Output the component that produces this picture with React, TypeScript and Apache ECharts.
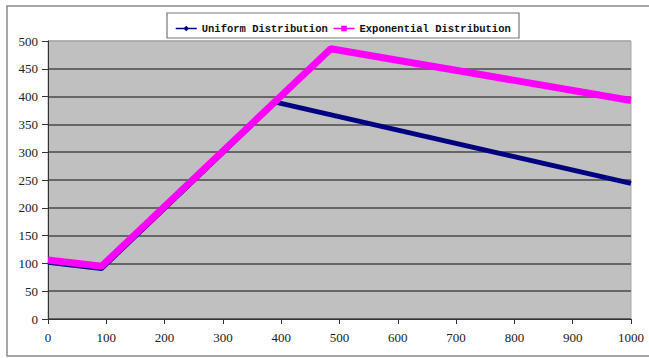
import React, { useEffect, useRef } from "react";
import * as echarts from "echarts";

// Sample positions and observed values for each distribution
const uniformX = [0, 92, 390, 1000];
const uniformY = [102, 91, 390, 244];
const exponentialX = [0, 92, 485, 1000];
const exponentialY = [106, 95, 486, 393];

const seriesNames = ["Uniform Distribution", "Exponential Distribution"];
const xTicks = [0, 100, 200, 300, 400, 500, 600, 700, 800, 900, 1000];
const yTicks = [0, 50, 100, 150, 200, 250, 300, 350, 400, 450, 500];

const pairs = (xs: number[], ys: number[]) => xs.map((x, i) => [x, ys[i]]);

export default function App() {
  const ref = useRef<HTMLDivElement>(null);

  useEffect(() => {
    if (!ref.current) return;
    const chart = echarts.init(ref.current, undefined, { renderer: "svg" });
    const gridLineColors = yTicks.map((_, i) => (i === yTicks.length - 1 ? "#a8a8a8" : "#4a4a4a"));

    chart.setOption({
      animation: false,
      backgroundColor: "#ffffff",
      textStyle: { fontFamily: "Liberation Serif" },
      graphic: [
        {
          type: "rect",
          shape: { x: 7, y: 6, width: 660, height: 350 },
          style: { fill: "none", stroke: "#888", lineWidth: 1.5 },
          z: 0,
        },
        {
          type: "rect",
          shape: { x: 167, y: 13, width: 352, height: 25 },
          style: { fill: "#fff", stroke: "#777", lineWidth: 1.2 },
          z: 0,
        },
      ],
      legend: {
        data: seriesNames,
        top: 18,
        left: 170,
        itemGap: 5,
        itemWidth: 21,
        itemHeight: 7,
        lineStyle: { width: 1.5 },
        textStyle: {
          fontFamily: "Liberation Mono",
          fontWeight: "bold",
          fontSize: 10.5,
          color: "#111",
        },
        z: 5,
      },
      grid: {
        left: 48,
        top: 41,
        right: 18,
        bottom: 39,
        show: true,
        backgroundColor: "#c0c0c0",
        borderColor: "#a8a8a8",
        borderWidth: 1,
      },
      xAxis: {
        type: "value",
        min: xTicks[0],
        max: xTicks[xTicks.length - 1],
        interval: 100,
        axisLine: { show: true, onZero: false, lineStyle: { color: "#333", width: 1 } },
        axisTick: { show: true, length: 5, lineStyle: { color: "#333" } },
        splitLine: { show: false },
        axisLabel: {
          fontFamily: "Liberation Serif",
          fontSize: 13,
          color: "#222",
          margin: 12,
          formatter: (v: number) => String(v),
        },
      },
      yAxis: {
        type: "value",
        min: yTicks[0],
        max: yTicks[yTicks.length - 1],
        interval: 50,
        axisLine: { show: true, lineStyle: { color: "#333", width: 1 } },
        axisTick: { show: true, length: 6, lineStyle: { color: "#333" } },
        splitLine: { show: true, lineStyle: { color: gridLineColors, width: 1.6 } },
        axisLabel: {
          fontFamily: "Liberation Serif",
          fontSize: 13,
          color: "#222",
          margin: 10,
          formatter: (v: number) => String(v),
        },
      },
      series: [
        {
          name: seriesNames[0],
          type: "line",
          data: pairs(uniformX, uniformY),
          symbol: "diamond",
          symbolSize: 7,
          showSymbol: false,
          color: "#000080",
          lineStyle: { color: "#000080", width: 5 },
          z: 2,
        },
        {
          name: seriesNames[1],
          type: "line",
          data: pairs(exponentialX, exponentialY),
          symbol: "rect",
          symbolSize: 7,
          showSymbol: false,
          color: "#ff00ff",
          lineStyle: { color: "#ff00ff", width: 7 },
          z: 3,
        },
      ],
    });
    return () => chart.dispose();
  }, []);

  return (
    <div
      ref={ref}
      style={{ position: "absolute", left: 0, top: 0, width: 649, height: 358 }}
    />
  );
}
